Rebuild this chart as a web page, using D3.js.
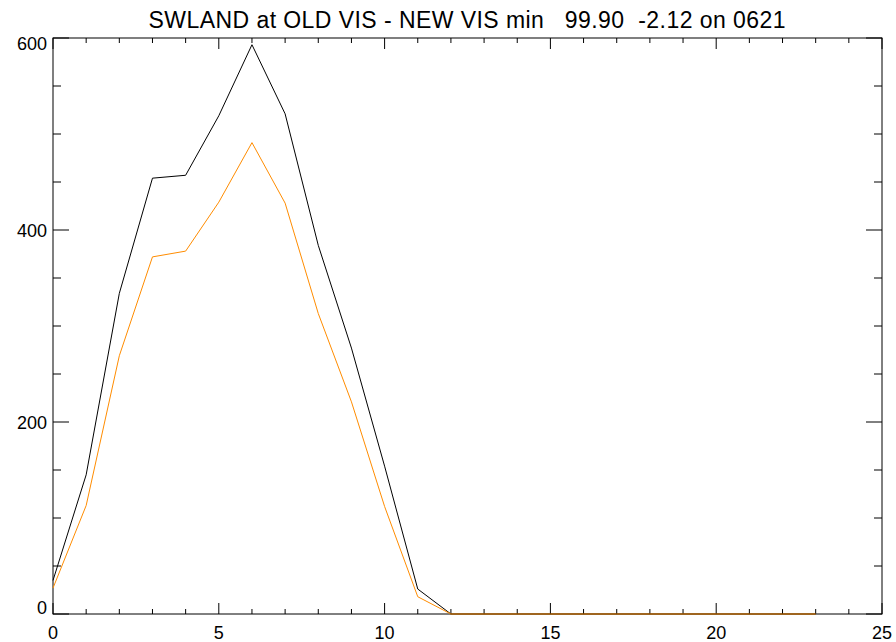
<!DOCTYPE html>
<html><head><meta charset="utf-8">
<script src="https://cdn.jsdelivr.net/npm/d3@7"></script>
<style>body{margin:0;background:#fff;}svg{display:block;}text{font-family:"Liberation Sans",Arial,sans-serif;white-space:pre;}</style>
</head><body>
<svg id="c" width="896" height="642"></svg>
<script>
const hours = d3.range(0, 24);
const oldVis = [35, 145, 334, 454, 457, 519, 593, 521, 384, 277, 154, 26, 0, 0, 0, 0, 0, 0, 0, 0, 0, 0, 0, 0];
const newVis = [27, 113, 269, 372, 378, 429, 491, 428, 313, 221, 112, 18, 0, 0, 0, 0, 0, 0, 0, 0, 0, 0, 0, 0];
const xTicks = [0, 5, 10, 15, 20, 25];
const yTicks = [0, 200, 400, 600];
const title = "SWLAND at OLD VIS - NEW VIS min   99.90  -2.12 on 0621";

const svg = d3.select("#c");
const L = 53, R = 882, T = 38, B = 614;
const x = d3.scaleLinear().domain([0, 25]).range([L, R]);
const y = d3.scaleLinear().domain([0, 600]).range([B, T]);

const g = svg.append("g");
g.append("rect").attr("x", L).attr("y", T).attr("width", R - L).attr("height", B - T)
  .attr("fill", "none").attr("stroke", "#000").attr("stroke-width", 1);

d3.range(0, 26).forEach(v => {
  const len = v % 5 === 0 ? 11 : 5;
  g.append("line").attr("x1", x(v)).attr("x2", x(v)).attr("y1", B).attr("y2", B - len).attr("stroke", "#000");
  g.append("line").attr("x1", x(v)).attr("x2", x(v)).attr("y1", T).attr("y2", T + len).attr("stroke", "#000");
});
d3.range(0, 601, 50).forEach(v => {
  const len = v % 200 === 0 ? 16 : 8;
  g.append("line").attr("y1", y(v)).attr("y2", y(v)).attr("x1", L).attr("x2", L + len).attr("stroke", "#000");
  g.append("line").attr("y1", y(v)).attr("y2", y(v)).attr("x1", R).attr("x2", R - len).attr("stroke", "#000");
});

g.selectAll(".xl").data(xTicks).enter().append("text")
  .attr("x", d => x(d)).attr("y", 639).attr("text-anchor", "middle")
  .attr("font-size", 18).text(d => d);
const yOff = {0: 0, 200: 7, 400: 7, 600: 12};
g.selectAll(".yl").data(yTicks).enter().append("text")
  .attr("x", 47).attr("y", d => y(d) + yOff[d]).attr("text-anchor", "end")
  .attr("font-size", 18).text(d => d);

svg.append("text").attr("x", 467).attr("y", 28).attr("text-anchor", "middle")
  .attr("font-size", 23).attr("textLength", 637).attr("lengthAdjust", "spacing").text(title);

const line = d3.line().x((d, i) => x(hours[i])).y(d => y(d));
svg.append("path").datum(oldVis).attr("d", line).attr("fill", "none").attr("stroke", "#000").attr("stroke-width", 1);
svg.append("path").datum(newVis).attr("d", line).attr("fill", "none").attr("stroke", "#ff8c00").attr("stroke-width", 1);
</script>
</body></html>
